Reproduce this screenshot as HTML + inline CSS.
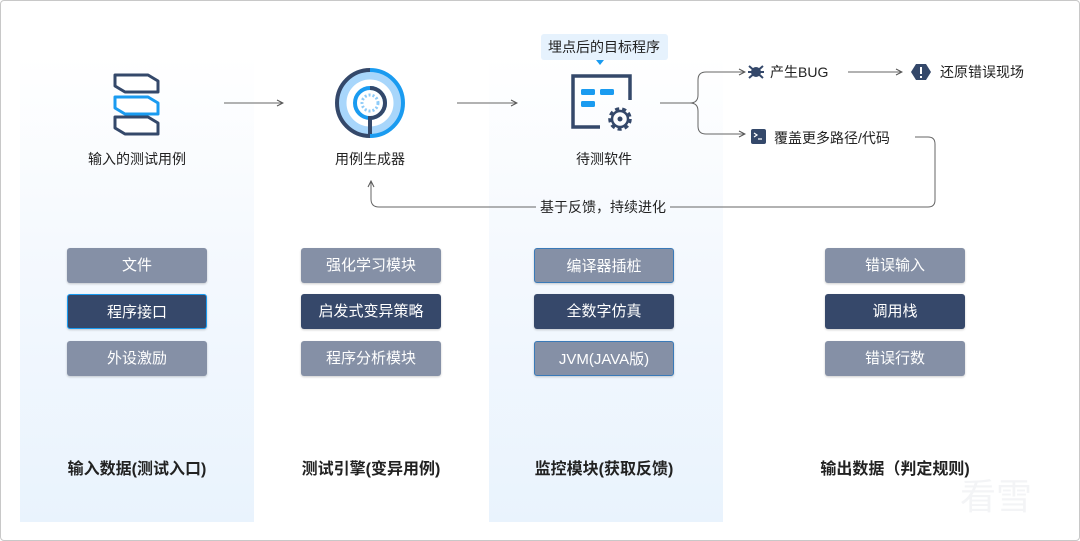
<!DOCTYPE html>
<html><head><meta charset="utf-8"><style>
*{margin:0;padding:0;box-sizing:border-box}
body{width:1080px;height:541px;background:#fff;position:relative;overflow:hidden;font-family:"Liberation Sans","Noto Sans CJK SC",sans-serif;color:#222}
.frame{position:absolute;left:0;top:0;width:1080px;height:541px;border:1px solid #c8c8c8;border-radius:4px}
.col{position:absolute;top:55px;width:234px;height:467px;background:linear-gradient(#fff 0%,#f5f9fe 40%,#e9f3fd 100%)}
.btn{position:absolute;width:140px;height:35px;border-radius:3px;color:#fff;font-size:15px;text-align:center;line-height:35px;box-shadow:0 1px 2px rgba(0,0,0,.2)}
.l{background:#8590a6}.d{background:#36486a}
.lab{position:absolute;font-size:14px;text-align:center;width:160px}
.bot{position:absolute;top:455px;font-size:16px;font-weight:bold;width:220px;text-align:center}
.t{position:absolute;font-size:14px;white-space:nowrap}
</style></head><body>
<div class="frame"></div>
<div class="col" style="left:20px"></div>
<div class="col" style="left:489px"></div>

<svg width="1080" height="541" style="position:absolute;left:0;top:0">
<defs><marker id="a" markerWidth="8" markerHeight="8" refX="7" refY="4" orient="auto"><path d="M1,1 L7,4 L1,7" fill="none" stroke="#555" stroke-width="1"/></marker></defs>
<g stroke="#666" stroke-width="1" fill="none">
<line x1="224" y1="103" x2="283" y2="103" marker-end="url(#a)"/>
<line x1="457" y1="103" x2="517" y2="103" marker-end="url(#a)"/>
<path d="M660,103 H690 Q698,103 698,95 V80 Q698,72 706,72 H745" marker-end="url(#a)"/>
<path d="M690,103 Q698,103 698,111 V126 Q698,134 706,134 H745" marker-end="url(#a)"/>
<line x1="848" y1="72" x2="902" y2="72" marker-end="url(#a)"/>
<path d="M915,137 H928 Q935,137 935,144 V200 Q935,207 928,207 H670"/>
<path d="M536,207 H379 Q371,207 371,199 V181" marker-end="url(#a)"/>
</g>
<g stroke="#34486a" stroke-width="3" stroke-linejoin="round">
<path d="M115,75 L148,75 L158,81 L158,92 L125,92 L115,86 Z" fill="#fff"/>
<path d="M115,97 L148,97 L158,103 L158,114 L125,114 L115,108 Z" fill="#fff" stroke="#1a9bf0"/>
<path d="M115,117 L148,117 L158,123 L158,134 L125,134 L115,128 Z" fill="#fff"/>
</g>
<circle cx="370" cy="103" r="28" fill="none" stroke="#a8d6fb" stroke-width="9"/>
<path d="M370,70 A33,33 0 0 0 370,136" fill="none" stroke="#34486a" stroke-width="4"/>
<path d="M370,70 A33,33 0 0 1 370,136" fill="none" stroke="#1a9bf0" stroke-width="4"/>
<circle cx="370" cy="103" r="15" fill="none" stroke="#1a9bf0" stroke-width="4"/>
<path d="M370,88 A15,15 0 0 1 370,118 V134" fill="none" stroke="#34486a" stroke-width="4"/>
<circle cx="370" cy="103" r="8" fill="none" stroke="#8ecbf8" stroke-width="3" stroke-dasharray="2 2"/>
<path d="M600,127 H573 V76 H630 V100" fill="none" stroke="#34486a" stroke-width="3.5"/>
<rect x="581" y="89" width="14" height="6" rx="1.5" fill="#1a9bf0"/>
<rect x="600" y="89" width="14" height="6" rx="1.5" fill="#1a9bf0"/>
<rect x="581" y="101" width="14" height="6" rx="1.5" fill="#1a9bf0"/>
<circle cx="620" cy="119" r="10" fill="none" stroke="#34486a" stroke-width="3.5" stroke-dasharray="4 3"/>
<circle cx="620" cy="119" r="8" fill="none" stroke="#34486a" stroke-width="2.5"/>
<circle cx="620" cy="119" r="2.5" fill="#34486a"/>
<rect x="541" y="34" width="127" height="26" rx="3" fill="#e6f2fd"/>
<path d="M596,60 L604,60 L600,65 Z" fill="#1a9bf0"/>
<circle cx="756" cy="72" r="5" fill="#34486a"/>
<path d="M749,66 L763,78 M763,66 L749,78 M748,72 H764" stroke="#34486a" stroke-width="2"/>
<path d="M916,64 L926,64 L931,72 L926,80 L916,80 L911,72 Z" fill="#34486a"/>
<rect x="920" y="67" width="2" height="7" fill="#fff"/><rect x="920" y="76" width="2" height="2" fill="#fff"/>
<rect x="751" y="129" width="15" height="15" rx="2" fill="#34486a"/>
<path d="M754,133 L757,135 L754,137 M758,139 H762" stroke="#fff" stroke-width="1.2" fill="none"/>
</svg>

<div class="t" style="left:548px;top:37px">埋点后的目标程序</div>
<div class="lab" style="left:57px;top:149px">输入的测试用例</div>
<div class="lab" style="left:290px;top:149px">用例生成器</div>
<div class="lab" style="left:524px;top:149px">待测软件</div>
<div class="t" style="left:770px;top:62px">产生BUG</div>
<div class="t" style="left:940px;top:62px">还原错误现场</div>
<div class="t" style="left:774px;top:128px">覆盖更多路径/代码</div>
<div class="t" style="left:540px;top:197px">基于反馈，持续进化</div>

<div class="btn l" style="left:67px;top:248px">文件</div>
<div class="btn d" style="left:67px;top:294px;border:1px solid #1a9bf0">程序接口</div>
<div class="btn l" style="left:67px;top:341px">外设激励</div>
<div class="btn l" style="left:301px;top:248px">强化学习模块</div>
<div class="btn d" style="left:301px;top:294px">启发式变异策略</div>
<div class="btn l" style="left:301px;top:341px">程序分析模块</div>
<div class="btn l" style="left:534px;top:248px;border:1px solid #3a7ab8">编译器插桩</div>
<div class="btn d" style="left:534px;top:294px">全数字仿真</div>
<div class="btn l" style="left:534px;top:341px;border:1px solid #3a7ab8">JVM(JAVA版)</div>
<div class="btn l" style="left:825px;top:248px">错误输入</div>
<div class="btn d" style="left:825px;top:294px">调用栈</div>
<div class="btn l" style="left:825px;top:341px">错误行数</div>

<div class="bot" style="left:27px">输入数据(测试入口)</div>
<div class="bot" style="left:261px">测试引擎(变异用例)</div>
<div class="bot" style="left:494px">监控模块(获取反馈)</div>
<div class="bot" style="left:785px">输出数据（判定规则)</div>
<div class="t" style="left:960px;top:468px;font-size:36px;color:#f3f4f6">看雪</div>
</body></html>
